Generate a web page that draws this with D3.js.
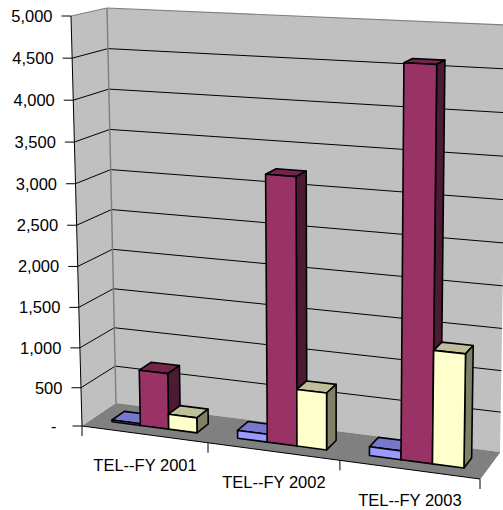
<!DOCTYPE html>
<html><head><meta charset="utf-8">
<script src="https://cdn.jsdelivr.net/npm/d3@7"></script>
<style>html,body{margin:0;padding:0;background:#fff;overflow:hidden}text{font-family:"Liberation Sans",Arial,sans-serif;font-size:16.5px;fill:#000}</style>
</head><body><svg id="c" width="503" height="510"></svg>
<script>
const categories = ["TEL--FY 2001","TEL--FY 2002","TEL--FY 2003"];
const seriesNames = ["A","B","C"];
const seriesA = [25,105,115];
const seriesB = [715,3230,4615];
const seriesC = [200,710,1360];
const valueTicks = [0,500,1000,1500,2000,2500,3000,3500,4000,4500,5000];
const seriesValues = [seriesA,seriesB,seriesC];
const fills = ["#9999FF","#993366","#FFFFCC"];
const tops = ["#7777CC","#732649","#BFBF99"];
const sides = ["#4D4D80","#4D1A33","#808066"];

// cage corners of the 3D box on screen
const F = {fl:[82,426],bl:[116,403],br:[500,452],fr:[480,479]};
const T = {fl:[71,16],bl:[107,8],br:[507,25],fr:[487,36]};
const lerp=(a,b,t)=>[a[0]+(b[0]-a[0])*t,a[1]+(b[1]-a[1])*t];
const bil=(q,u,d)=>lerp(lerp(q.fl,q.fr,u),lerp(q.bl,q.br,u),d);
const vS=d3.scalePow().exponent(1.03).domain([0,5000]).range([0,1]);
const cS=d3.scaleLinear().domain([0,1,2,3]).range([0,.3166,.648,1]);
const dS=d3.scaleLinear().domain([0,1]).range([.3,.67]);
const band=d3.scaleBand().domain(seriesNames).range([0,1]).paddingInner(0).paddingOuter(.7);
const P=(u,d,val)=>lerp(bil(F,u,d),bil(T,u,d),vS(val));

const svg=d3.select("#c");
const poly=(pts,fill,stroke,sw)=>svg.append("polygon").attr("points",pts.map(p=>p.join(",")).join(" ")).attr("fill",fill).attr("stroke",stroke||"none").attr("stroke-width",sw||0).attr("stroke-linejoin","round");
const line=(a,b,st,sw)=>svg.append("line").attr("x1",a[0]).attr("y1",a[1]).attr("x2",b[0]).attr("y2",b[1]).attr("stroke",st).attr("stroke-width",sw);

// walls
poly([P(0,0,0),P(0,1,0),P(0,1,5000),P(0,0,5000)],"#C0C0C0");
poly([P(0,1,0),P(1,1,0),P(1,1,5000),P(0,1,5000)],"#C0C0C0");
poly([P(0,0,0),P(1,0,0),P(1,1,0),P(0,1,0)],"#808080");
valueTicks.slice(1).forEach(v=>{
  if(v===5000) return;
  line(P(0,0,v),P(0,1,v),"#000",1);
  line(P(0,1,v),P(1,1,v),"#000",1);
});
line(P(0,0,5000),P(0,1,5000),"#808080",1.2);
line(P(0,1,5000),P(1,1,5000),"#808080",1.2);
line(P(0,1,0),P(0,1,5000),"#808080",1.5);
line(P(1,1,0),P(1,0,0),"#808080",1);

// axes
line(P(0,0,0),P(0,0,5000),"#000",1);
valueTicks.forEach(v=>{
  const p=P(0,0,v);
  line([p[0]-9.5,p[1]],p,"#000",1);
  svg.append("text").attr("x",p[0]-18.5+(v===0?-7:0)).attr("y",p[1]+6).attr("text-anchor","end").text(v===0?"-":d3.format(",")(v));
});
line(P(0,0,0),P(1,0,0),"#000",1);
d3.range(4).forEach(i=>{const p=P(cS(i),0,0);line(p,[p[0],p[1]+10],"#000",1);});
categories.forEach((c,i)=>{
  const p=P((cS(i)+cS(i+1))/2,0,0);
  svg.append("text").attr("x",p[0]).attr("y",p[1]+36.5).attr("text-anchor","middle").text(c);
});

// bars
categories.forEach((c,i)=>{
  const uAt=t=>cS(i)+(cS(i+1)-cS(i))*t;
  seriesNames.forEach((s,j)=>{
    const v=seriesValues[j][i];
    const u0=uAt(band(s)),u1=uAt(band(s)+band.bandwidth());
    const d0=dS(0),d1=dS(1);
    poly([P(u0,d0,v),P(u1,d0,v),P(u1,d1,v),P(u0,d1,v)],tops[j],"#000",1.6);
    poly([P(u1,d0,0),P(u1,d1,0),P(u1,d1,v),P(u1,d0,v)],sides[j],"#000",1.6);
    poly([P(u0,d0,0),P(u1,d0,0),P(u1,d0,v),P(u0,d0,v)],fills[j],"#000",1.6);
  });
});
</script></body></html>
